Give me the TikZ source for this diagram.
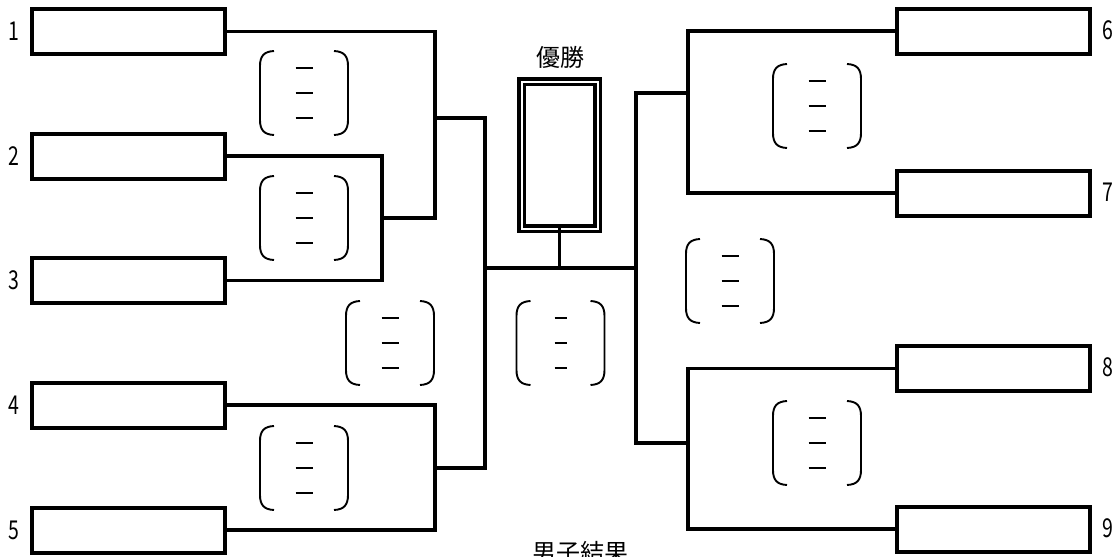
\documentclass[tikz,border=0pt]{standalone}
\usepackage{fontspec}
\setmainfont{Noto Sans CJK JP}
\newcommand{\narrownum}[1]{\scalebox{0.75}[1]{#1}}
\begin{document}
\begin{tikzpicture}[x=1pt,y=-1pt,
  entry/.style={draw, line width=4pt, minimum width=193pt, minimum height=45pt, inner sep=0pt, outer sep=0pt, fill=white},
  link/.style={line width=3.2pt, line cap=rect, line join=miter},
  num/.style={font=\fontsize{26}{26}\selectfont, inner sep=0pt},
  heading/.style={font=\fontsize{24}{24}\selectfont, inner sep=0pt},
  score/.pic={
    \draw[line width=1.9pt] (-30,-42) .. controls (-40,-41.5) and (-44,-37) .. (-44,-27) -- (-44,27) .. controls (-44,37) and (-40,41.5) .. (-30,42);
    \draw[line width=1.9pt] (30,-42) .. controls (40,-41.5) and (44,-37) .. (44,-27) -- (44,27) .. controls (44,37) and (40,41.5) .. (30,42);
    \draw[line width=1.3pt] (-#1,-25) -- (#1,-25) (-#1,0) -- (#1,0) (-#1,25) -- (#1,25);
  }]
\useasboundingbox (0,0) rectangle (1120,557);

% junction coordinates
\coordinate (j12) at (382,218);
\coordinate (j123t) at (435,118);
\coordinate (j123b) at (435,218);
\coordinate (j45) at (435,530);
\coordinate (j45m) at (435,468);
\coordinate (cl) at (485,268);
\coordinate (cr) at (636,268);
\coordinate (s) at (559.5,268);
\coordinate (r67) at (688,193);
\coordinate (r89) at (688,529);
\coordinate (r67m) at (688,93);
\coordinate (r89m) at (688,443);

% connectors (drawn first)
\draw[link] (128.5,31.5) -| (j123b) -- (j12);
\draw[link] (128.5,156) -| (382,280.5) -- (128.5,280.5);
\draw[link] (j123t) -- (485,118) -- (485,468) -- (j45m);
\draw[link] (128.5,405) -| (j45) -- (128.5,530);
\draw[link] (cl) -- (cr);
\draw[link] (r67m) -- (636,93) -- (636,443) -- (r89m);
\draw[link] (993,31) -| (r67) -- (993,193);
\draw[link] (993,368.5) -| (r89) -- (993,529);

% entry boxes
\node[entry] (b1) at (128.5,31.5) {};
\node[entry] (b2) at (128.5,156) {};
\node[entry] (b3) at (128.5,280.5) {};
\node[entry] (b4) at (128.5,405) {};
\node[entry] (b5) at (128.5,530) {};
\node[entry] (b6) at (993,31) {};
\node[entry] (b7) at (993,193) {};
\node[entry] (b8) at (993,368.5) {};
\node[entry] (b9) at (993,529) {};

% numbers
\node[num] (n1) at (14,31.5) {\narrownum{1}};
\node[num] (n2) at (14,156) {\narrownum{2}};
\node[num] (n3) at (14,280.5) {\narrownum{3}};
\node[num] (n4) at (14,405) {\narrownum{4}};
\node[num] (n5) at (14,530) {\narrownum{5}};
\node[num] (n6) at (1108,30) {\narrownum{6}};
\node[num] (n7) at (1108,192) {\narrownum{7}};
\node[num] (n8) at (1108,367.5) {\narrownum{8}};
\node[num] (n9) at (1108,528) {\narrownum{9}};

% trophy
\node[draw, double, double distance=2pt, line width=3.5pt, minimum width=76pt, minimum height=147pt, inner sep=0pt, outer sep=0pt, fill=white] (trophy) at (559.5,155) {};
\draw[link] (trophy.south) -- (s);
\node[heading] (win) at (560,57) {優勝};
\node[font=\fontsize{24}{24}\selectfont, inner sep=0pt, anchor=north] (res) at (580,541) {男子結果};

% score marks
\pic at (304,93) {score=8.5};
\pic at (304,218) {score=8.5};
\pic at (390,343) {score=8.5};
\pic at (304,468) {score=8.5};
\pic at (560.5,343) {score=6};
\pic at (817,106) {score=8.5};
\pic at (730,281) {score=8.5};
\pic at (817,443) {score=8.5};
\end{tikzpicture}
\end{document}
